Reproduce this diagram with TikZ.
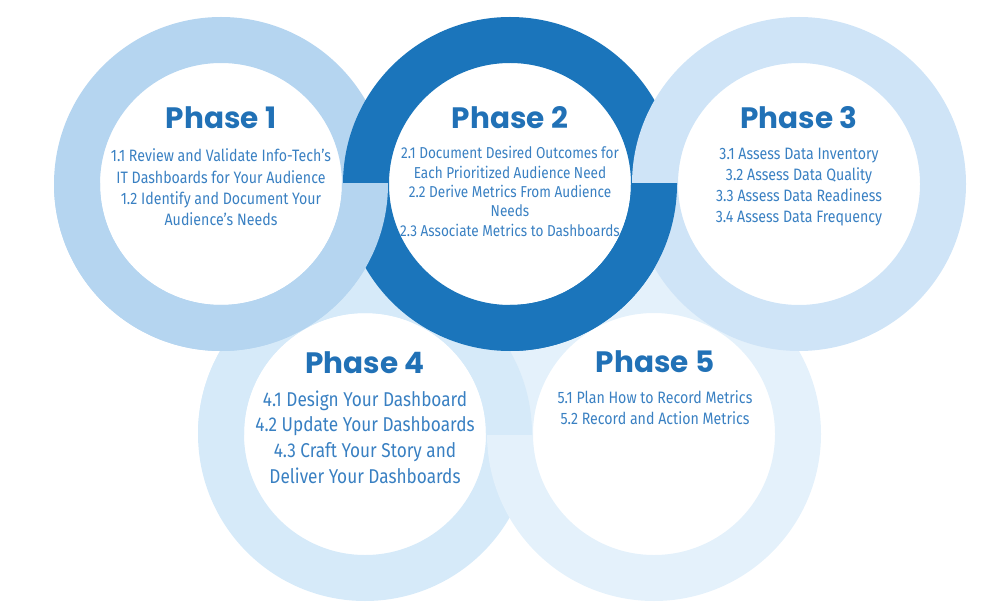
\documentclass[tikz,border=0pt]{standalone}
\usepackage{fontspec}
\setmainfont{Fira Sans}
\newfontfamily\titlefont{Poppins}
\newfontfamily\bodyfont{Fira Sans}[FakeStretch=0.86]
\definecolor{ringA}{HTML}{B5D5F0}
\definecolor{ringB}{HTML}{1B75BB}
\definecolor{ringC}{HTML}{CFE4F7}
\definecolor{ringD}{HTML}{D6EAF9}
\definecolor{ringE}{HTML}{E4F1FB}
\definecolor{titlecol}{HTML}{2171B6}
\definecolor{bodycol}{HTML}{3980C2}
\tikzset{
  phasetitle/.style={anchor=base, inner sep=0pt, text=titlecol, font=\titlefont\bfseries\fontsize{29.5}{34}\selectfont},
  phasebody/.style={anchor=base, inner sep=0pt, text=bodycol},
}
\newcommand\ringat[3]{\fill[#1, even odd rule] (#2,#3) circle[radius=167pt] (#2,#3) circle[radius=121pt];}
\begin{document}
\begin{tikzpicture}[x=1pt,y=-1pt]
\useasboundingbox (0,0) rectangle (1006,612);
% bottom row
\ringat{ringD}{365}{434}
\ringat{ringE}{654}{434}
\begin{scope}
  \clip (0,0) rectangle (1006,434);
  \ringat{ringD}{365}{434}
\end{scope}
% top row
\ringat{ringA}{221}{184}
\ringat{ringB}{510}{184}
\ringat{ringC}{799}{184}
\begin{scope}
  \clip (0,184) rectangle (1006,612);
  \ringat{ringA}{221}{184}
\end{scope}
\begin{scope}
  \clip (510,184) rectangle (1006,612);
  \ringat{ringB}{510}{184}
\end{scope}
% titles
\node[phasetitle] (t1) at (221,129) {Phase 1};
\node[phasetitle] (t2) at (510,129) {Phase 2};
\node[phasetitle] (t3) at (799,129) {Phase 3};
\node[phasetitle] (t4) at (365,373) {Phase 4};
\node[phasetitle] (t5) at (655,372) {Phase 5};
% bodies
\node[phasebody] (b1) at (221,162) {\bodyfont\fontsize{16.5}{21.3}\selectfont\begin{tabular}[t]{@{}c@{}}1.1 Review and Validate Info-Tech’s\\IT Dashboards for Your Audience\\1.2 Identify and Document Your\\Audience’s Needs\end{tabular}};
\node[phasebody] (b2) at (510,159) {\bodyfont\fontsize{15.8}{19.3}\selectfont\begin{tabular}[t]{@{}c@{}}2.1 Document Desired Outcomes for\\Each Prioritized Audience Need\\2.2 Derive Metrics From Audience\\Needs\\2.3 Associate Metrics to Dashboards\end{tabular}};
\node[phasebody] (b3) at (799,160) {\bodyfont\fontsize{16.5}{21}\selectfont\begin{tabular}[t]{@{}c@{}}3.1 Assess Data Inventory\\3.2 Assess Data Quality\\3.3 Assess Data Readiness\\3.4 Assess Data Frequency\end{tabular}};
\node[phasebody] (b4) at (365,406) {\bodyfont\fontsize{20}{25.7}\selectfont\begin{tabular}[t]{@{}c@{}}4.1 Design Your Dashboard\\4.2 Update Your Dashboards\\4.3 Craft Your Story and\\Deliver Your Dashboards\end{tabular}};
\node[phasebody] (b5) at (655,403) {\bodyfont\fontsize{16.5}{21}\selectfont\begin{tabular}[t]{@{}c@{}}5.1 Plan How to Record Metrics\\5.2 Record and Action Metrics\end{tabular}};
\end{tikzpicture}
\end{document}
